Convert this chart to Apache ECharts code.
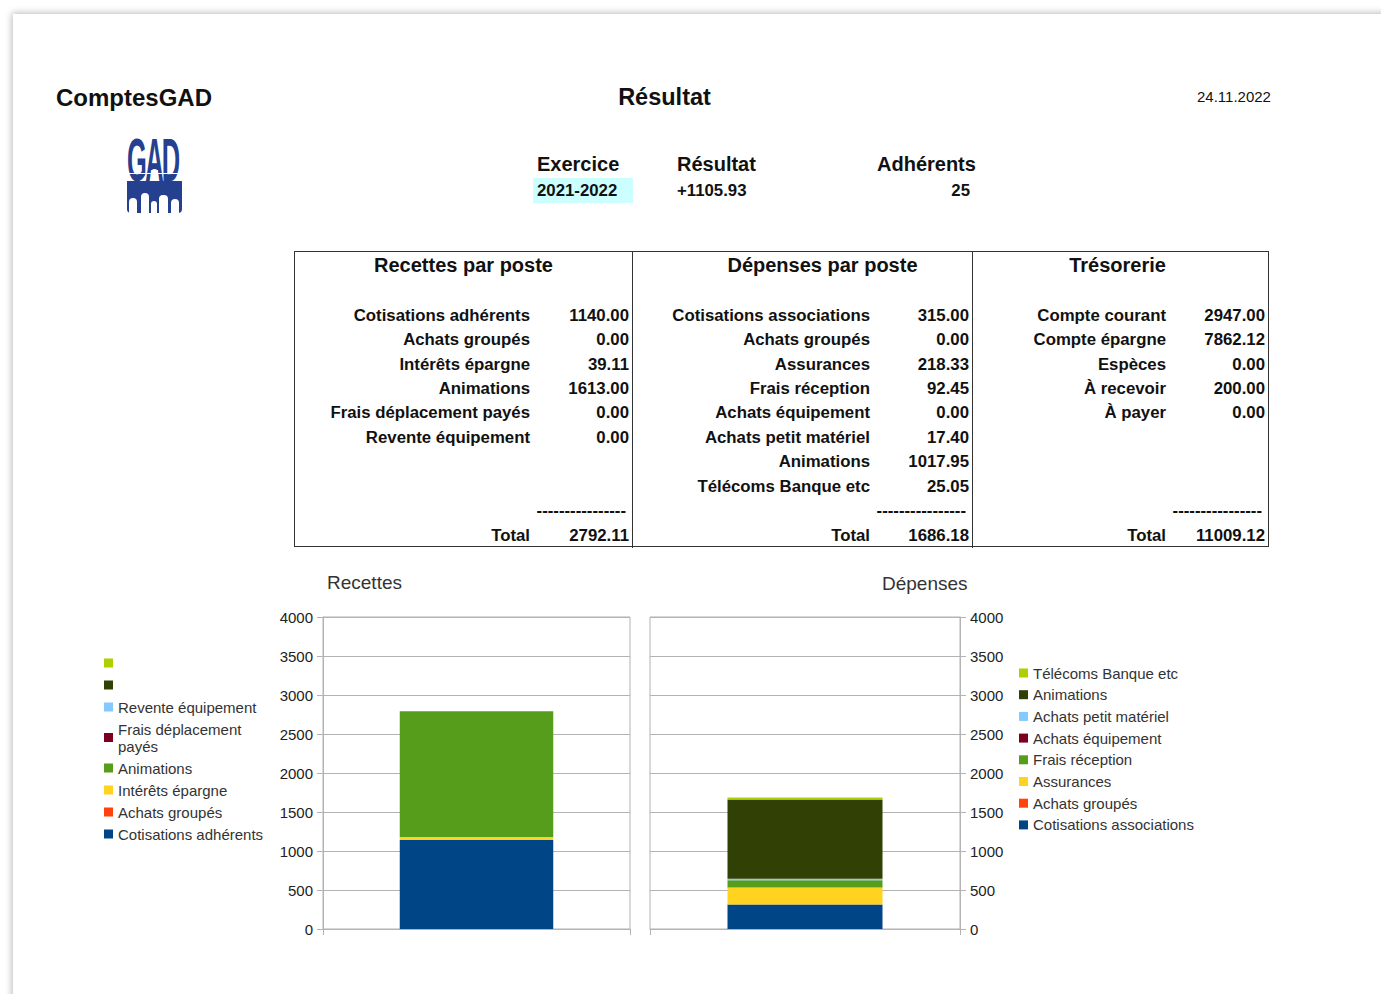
<!DOCTYPE html>
<html>
<head>
<meta charset="utf-8">
<script src="https://cdn.jsdelivr.net/npm/echarts/dist/echarts.min.js"></script>
<style>
html,body{margin:0;padding:0;background:#fff;width:1381px;height:994px;overflow:hidden;font-family:"Liberation Sans",Arial,sans-serif;}
#page{position:absolute;left:13px;top:14px;width:1400px;height:1000px;background:#fff;box-shadow:0 0 7px 1px rgba(0,0,0,0.28);}
#chartR{position:absolute;left:0;top:560px;width:650px;height:434px;}
#chartD{position:absolute;left:640px;top:560px;width:741px;height:434px;}
.t{position:absolute;white-space:nowrap;color:#111;}
#box{position:absolute;left:294px;top:251px;width:973px;height:294px;border:1.6px solid #333;}
.vl{position:absolute;top:251px;width:0;height:297px;border-left:1.6px solid #333;}
#logo{position:absolute;left:127px;top:137px;width:55px;height:76px;}
#logo .f{position:absolute;background:#fff;border-radius:4px 4px 0 0;}
</style>
</head>
<body>
<div id="page"></div>
<div id="box"></div>
<div class="vl" style="left:632px"></div>
<div class="vl" style="left:972px"></div>
<div style="position:absolute;left:533px;top:178px;width:100px;height:25px;background:#ccffff;"></div>
<div id="logo">
<div style="position:absolute;left:0;top:-7px;font:bold 31px 'Liberation Sans',sans-serif;color:#25408f;letter-spacing:-2px;transform:scale(0.82,1.95);transform-origin:0 0;line-height:31px;">GAD</div>
<div style="position:absolute;left:0;top:44px;width:55px;height:32px;background:#25408f;border-radius:0 0 4px 4px;"></div>
<div style="position:absolute;left:0;top:36px;width:55px;height:1px;background:#fff;"></div>
<div style="position:absolute;left:24px;top:32px;width:7px;height:7px;border-radius:50%;background:#fff;"></div>
<div class="f" style="left:2px;top:61px;width:8px;height:15px;"></div>
<div class="f" style="left:14px;top:56px;width:8px;height:20px;"></div>
<div class="f" style="left:24px;top:64px;width:6px;height:12px;"></div>
<div class="f" style="left:32px;top:58px;width:9px;height:18px;"></div>
<div class="f" style="left:44px;top:62px;width:8px;height:14px;"></div>
</div>
<div id="chartR"></div>
<div id="chartD"></div>
<div id="txt"></div>
<script>
// ---- data ----
const recettesNames = ['Cotisations adhérents','Achats groupés','Intérêts épargne','Animations','Frais déplacement payés','Revente équipement'];
const recettesValues = [1140.00, 0.00, 39.11, 1613.00, 0.00, 0.00];
const recettesTotal = 2792.11;
const recettesBlankNames = [' ', '  '];
const depensesNames = ['Cotisations associations','Achats groupés','Assurances','Frais réception','Achats équipement','Achats petit matériel','Animations','Télécoms Banque etc'];
const depensesValues = [315.00, 0.00, 218.33, 92.45, 0.00, 17.40, 1017.95, 25.05];
const depensesTotal = 1686.18;
const tresorerieNames = ['Compte courant','Compte épargne','Espèces','À recevoir','À payer'];
const tresorerieValues = [2947.00, 7862.12, 0.00, 200.00, 0.00];
const tresorerieTotal = 11009.12;
const seriesColors = ['#004586','#ff420e','#ffd320','#579d1c','#7e0021','#83caff','#314004','#aecf00'];
const yMin = 0, yMax = 4000, yInterval = 500;
const headerInfo = {app:'ComptesGAD', title:'Résultat', date:'24.11.2022', exercice:'2021-2022', resultat:'+1105.93', adherents:'25'};

// ---- html text ----
const txt = document.getElementById('txt');
function put(text, x, y, size, bold, align){
  const d = document.createElement('div');
  d.className = 't';
  d.textContent = text;
  const lh = Math.round(size*1.2);
  d.style.fontSize = size + 'px';
  d.style.lineHeight = lh + 'px';
  d.style.fontWeight = bold ? 'bold' : 'normal';
  d.style.top = (y - lh/2) + 'px';
  if (align === 'right') { d.style.right = (1381 - x) + 'px'; }
  else if (align === 'center') { d.style.left = (x - 300) + 'px'; d.style.width = '600px'; d.style.textAlign = 'center'; }
  else { d.style.left = x + 'px'; }
  txt.appendChild(d);
}
put(headerInfo.app, 56, 97, 24, true, 'left');
put(headerInfo.title, 664.5, 97, 23.5, true, 'center');
put(headerInfo.date, 1197, 97, 15, false, 'left');
put('Exercice', 537, 164, 20, true, 'left');
put('Résultat', 677, 164, 20, true, 'left');
put('Adhérents', 877, 164, 20, true, 'left');
put(headerInfo.exercice, 537, 190.5, 16.8, true, 'left');
put(headerInfo.resultat, 677, 190.5, 16.8, true, 'left');
put(headerInfo.adherents, 970, 190.5, 16.8, true, 'right');

put('Recettes par poste', 463.5, 265, 20, true, 'center');
put('Dépenses par poste', 822.5, 265, 20, true, 'center');
put('Trésorerie', 1117.5, 265, 20, true, 'center');

const rowY = [315.5, 340, 364.5, 389, 413.4, 437.8, 462.2, 486.6];
const dashes = '----------------';
function column(names, values, total, labelX, valueX, dashX){
  names.forEach((n,i)=>{
    put(n, labelX, rowY[i], 16.8, true, 'right');
    put(values[i].toFixed(2), valueX, rowY[i], 16.8, true, 'right');
  });
  put(dashes, dashX, 510.5, 16.8, true, 'right');
  put('Total', labelX, 535.5, 16.8, true, 'right');
  put(total.toFixed(2), valueX, 535.5, 16.8, true, 'right');
}
column(recettesNames, recettesValues, recettesTotal, 530, 629, 626);
column(depensesNames, depensesValues, depensesTotal, 870, 969, 966);
column(tresorerieNames, tresorerieValues, tresorerieTotal, 1166, 1265, 1262);

// ---- charts ----
const gray = '#b3b3b3';
function yAxisCfg(pos){
  return {
    type:'value', min:yMin, max:yMax, interval:yInterval, position:pos,
    axisLine:{show:true, lineStyle:{color:gray, width:1}},
    axisTick:{show:true, length:6, lineStyle:{color:gray}},
    splitLine:{show:true, lineStyle:{color:gray, width:1}},
    axisLabel:{color:'#222', fontSize:15, fontFamily:'Liberation Sans', margin:10, formatter:(v)=>String(v)}
  };
}
function xAxisCfg(){
  return {
    type:'category', data:[''],
    axisLine:{show:true, lineStyle:{color:gray}},
    axisTick:{show:true, length:6, lineStyle:{color:gray}},
    axisLabel:{show:false}
  };
}
function legendFmt(name){ return name === 'Frais déplacement payés' ? 'Frais déplacement\npayés' : name; }

const allR = recettesNames.concat(recettesBlankNames);
const seriesR = allR.map((n,i)=>({
  name:n, type:'bar', stack:'r', barWidth:'50%',
  data:[i < recettesValues.length ? recettesValues[i] : 0],
  itemStyle:{color:seriesColors[i]}
}));
const chartR = echarts.init(document.getElementById('chartR'), null, {renderer:'svg'});
chartR.setOption({
  animation:false,
  title:{text:'Recettes', left:327, top:11, padding:0, textStyle:{fontSize:19, fontWeight:'normal', color:'#333', fontFamily:'Liberation Sans', lineHeight:22}},
  grid:{left:323, top:57, width:307, height:312, show:true, borderColor:gray, borderWidth:1, containLabel:false, outerBoundsMode:'none'},
  xAxis:xAxisCfg(),
  yAxis:yAxisCfg('left'),
  legend:{orient:'vertical', left:104, top:94.5, padding:0, itemWidth:9, itemHeight:9, itemGap:5, icon:'rect', selectedMode:false,
    data:allR.slice().reverse(), formatter:legendFmt,
    textStyle:{fontSize:15, color:'#333', fontFamily:'Liberation Sans', lineHeight:17}},
  series:seriesR
});

const seriesD = depensesNames.map((n,i)=>({
  name:n, type:'bar', stack:'d', barWidth:'50%',
  data:[depensesValues[i]],
  itemStyle:{color:seriesColors[i]}
}));
const chartD = echarts.init(document.getElementById('chartD'), null, {renderer:'svg'});
chartD.setOption({
  animation:false,
  title:{text:'Dépenses', left:242, top:12, padding:0, textStyle:{fontSize:19, fontWeight:'normal', color:'#333', fontFamily:'Liberation Sans', lineHeight:22}},
  grid:{left:10, top:57, width:310, height:312, show:true, borderColor:gray, borderWidth:1, containLabel:false, outerBoundsMode:'none'},
  xAxis:xAxisCfg(),
  yAxis:yAxisCfg('right'),
  legend:{orient:'vertical', left:379, top:104.5, padding:0, itemWidth:9, itemHeight:9, itemGap:4.7, icon:'rect', selectedMode:false,
    data:depensesNames.slice().reverse(), formatter:legendFmt,
    textStyle:{fontSize:15, color:'#333', fontFamily:'Liberation Sans', lineHeight:17}},
  series:seriesD
});
</script>
</body>
</html>
